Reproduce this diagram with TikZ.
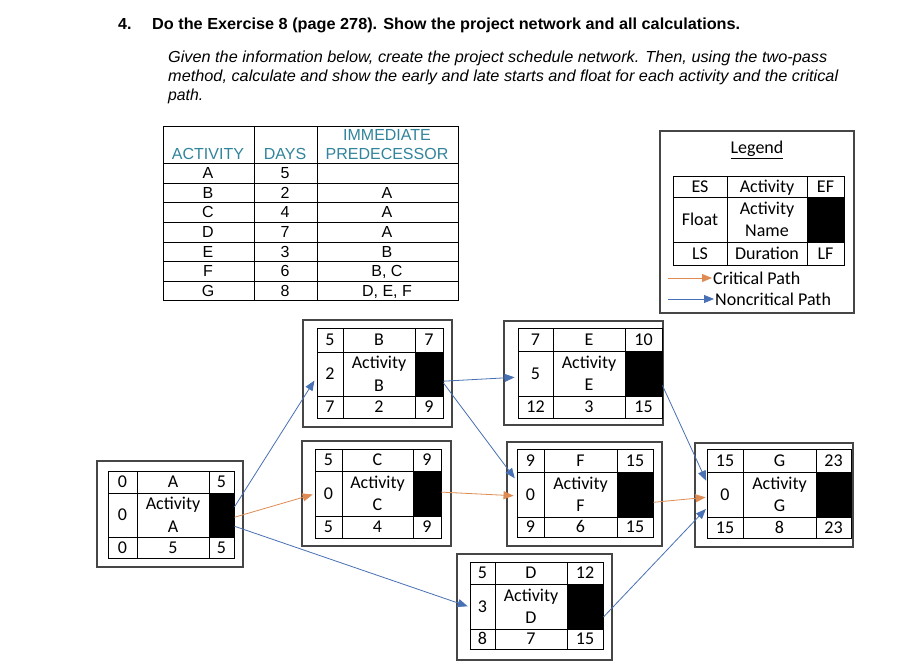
\documentclass[tikz,border=0pt]{standalone}
\usepackage{fontspec}
\usepackage{graphicx}
\setmainfont{Carlito}
\newfontfamily\arial{Liberation Sans}
\usetikzlibrary{arrows.meta,fit,calc}
\definecolor{teal1}{RGB}{49,132,155}
\definecolor{crit}{RGB}{223,140,84}
\definecolor{ncrit}{RGB}{72,112,180}
\definecolor{boxgray}{RGB}{70,70,70}
\tikzset{
  cell/.style={draw=black, line width=0.9pt, inner sep=0pt},
  celltxt/.style={inner sep=0pt, font=\fontsize{18}{22}\selectfont, text height=11.4pt, text depth=0pt},
  midtxt/.style={inner sep=0pt, font=\fontsize{18}{22.5}\selectfont, align=center},
  blackcell/.style={draw=black, fill=black, line width=0.9pt, inner sep=0pt},
  outerbox/.style={draw=boxgray, line width=1.1pt, inner sep=0pt},
  critarrow/.style={draw=crit, line width=0.8pt, -{Triangle[length=10pt,width=8pt]}},
  ncritarrow/.style={draw=ncrit, line width=0.8pt, -{Triangle[length=10pt,width=8pt]}},
  tabtxt/.style={font=\arial\fontsize{16}{18}\selectfont, inner sep=0pt, text height=11.5pt, text depth=0pt},
  headtxt/.style={tabtxt, text=teal1},
  itxt/.style={anchor=base west, inner sep=0pt, font=\arial\itshape\fontsize{16}{19}\selectfont},
  btxt/.style={anchor=base west, inner sep=0pt, font=\arial\bfseries\fontsize{16}{18}\selectfont},
  legtxt/.style={font=\fontsize{18}{20}\selectfont},
}
\def\setO#1,#2,#3,#4\relax{\def\oxa{#1}\def\oya{#2}\def\oxb{#3}\def\oyb{#4}}
\def\setX#1,#2,#3,#4\relax{\def\xa{#1}\def\xb{#2}\def\xc{#3}\def\xd{#4}}
\def\setY#1,#2,#3,#4\relax{\def\ya{#1}\def\yb{#2}\def\yc{#3}\def\yd{#4}}
\def\setT#1,#2,#3\relax{\def\tes{#1}\def\tnm{#2}\def\tef{#3}}
\def\setB#1,#2,#3\relax{\def\bls{#1}\def\bdu{#2}\def\blf{#3}}
\newcommand\actnode[8]{%
  \setO#2\relax\setX#3\relax\setY#4\relax\setT#5\relax\setB#8\relax
  \node[outerbox, fit={(\oxa,\oya)(\oxb,\oyb)}] (#1) {};
  \node[cell, fit={(\xa,\ya)(\xb,\yb)}] (#1-es) {};
  \node[cell, fit={(\xb,\ya)(\xc,\yb)}] (#1-nm) {};
  \node[cell, fit={(\xc,\ya)(\xd,\yb)}] (#1-ef) {};
  \node[cell, fit={(\xa,\yb)(\xb,\yc)}] (#1-fl) {};
  \node[cell, fit={(\xb,\yb)(\xc,\yc)}] (#1-ac) {};
  \node[blackcell, fit={(\xc,\yb)(\xd,\yc)}] (#1-bk) {};
  \node[cell, fit={(\xa,\yc)(\xb,\yd)}] (#1-ls) {};
  \node[cell, fit={(\xb,\yc)(\xc,\yd)}] (#1-du) {};
  \node[cell, fit={(\xc,\yc)(\xd,\yd)}] (#1-lf) {};
  \node[celltxt] (#1-est) at (#1-es.center) {\tes};
  \node[celltxt] (#1-nmt) at (#1-nm.center) {\tnm};
  \node[celltxt] (#1-eft) at (#1-ef.center) {\tef};
  \node[celltxt] (#1-flt) at (#1-fl.center) {#6};
  \node[midtxt] (#1-act) at (#1-ac.center) {#7};
  \node[celltxt] (#1-lst) at (#1-ls.center) {\bls};
  \node[celltxt] (#1-dut) at (#1-du.center) {\bdu};
  \node[celltxt] (#1-lft) at (#1-lf.center) {\blf};
}
\begin{document}
\begin{tikzpicture}[x=1pt,y=-1pt]
\useasboundingbox[fill=white] (0,0) rectangle (916,670);

% heading
\node[btxt] (hnum) at (118,29) {4.};
\node[btxt] (htitle) at (152,29) {\resizebox{588pt}{\height}{Do the Exercise 8 (page 278). Show the project network and all calculations.}};
\node[itxt] (g1) at (168,62) {\resizebox{659pt}{\height}{Given the information below, create the project schedule network. Then, using the two-pass}};
\node[itxt] (g2) at (168,81) {\resizebox{670pt}{\height}{method, calculate and show the early and late starts and float for each activity and the critical}};
\node[itxt] (g3) at (168,100) {\resizebox{35pt}{\height}{path.}};

% data table
\draw[line width=0.8pt] (163,126) rectangle (458,300);
\draw[line width=0.8pt] (254,126) -- (254,300) (317,126) -- (317,300);
\foreach \y in {163,183,202,222,242,261,281} \draw[line width=0.8pt] (163,\y) -- (458,\y);
\node[headtxt] (th1) at (208,154) {ACTIVITY};
\node[headtxt] (th2) at (285,154) {DAYS};
\node[headtxt] (th3) at (387,135) {IMMEDIATE};
\node[headtxt] (th4) at (387,154) {PREDECESSOR};
\foreach \a/\d/\p/\y [count=\i] in {A/5/{}/173, B/2/A/192.5, C/4/A/212, D/7/A/232, E/3/B/251.5, F/6/{B, C}/271, G/8/{D, E, F}/290.5}{
  \node[tabtxt] (ta\i) at (208,\y) {\a};
  \node[tabtxt] (td\i) at (285,\y) {\d};
  \node[tabtxt] (tp\i) at (387,\y) {\p};
}

% legend
\actnode{L}{660,131,854,313}{673,727,807,844}{176,197,242,265}{ES,Activity,EF}{Float}{Activity\\Name}{LS,Duration,LF}
\node[legtxt, inner sep=0pt] (ltitle) at (757,150) {\underline{Legend}};
\coordinate (lc1) at (668,278);
\coordinate (lc2) at (668,299);
\node[legtxt, anchor=west, inner sep=1pt] (lcrit) at (712,278) {Critical Path};
\node[legtxt, anchor=west, inner sep=1pt] (lncrit) at (714,299) {Noncritical Path};
\draw[critarrow] (lc1) -- (lcrit.west);
\draw[ncritarrow] (lc2) -- (lncrit.west);

% activity nodes
\actnode{A}{97,461,243,567}{108,137,209,234}{471,493,537,558}{0,A,5}{0}{Activity\\A}{0,5,5}
\actnode{B}{303,320,452,427}{317,343,415,443}{328,352,396,418}{5,B,7}{2}{Activity\\B}{7,2,9}
\actnode{C}{302,441,451,546}{315,342,413,441}{449,471,516,538}{5,C,9}{0}{Activity\\C}{5,4,9}
\actnode{D}{457,554,612,660}{470,495,567,603}{562,584,629,649}{5,D,12}{3}{Activity\\D}{8,7,15}
\actnode{E}{504,321,663,425}{518,553,625,662}{328,351,396,418}{7,E,10}{5}{Activity\\E}{12,3,15}
\actnode{F}{507,442,662,546}{517,544,617,653}{449,472,517,537}{9,F,15}{0}{Activity\\F}{9,6,15}
\actnode{G}{695,443,853,547}{707,743,816,851}{449,472,517,538}{15,G,23}{0}{Activity\\G}{15,8,23}

% connectors
\draw[ncritarrow, shorten >=4pt] ($(A-bk.north east)!0.32!(A-bk.south east)$) -- ($(B-fl.north west)!0.57!(B-fl.south west)$);
\draw[critarrow, shorten >=2pt] ($(A-bk.north east)!0.55!(A-bk.south east)$) -- ($(C-fl.north west)!0.51!(C-fl.south west)$);
\draw[ncritarrow, shorten >=2pt] ($(A-bk.north east)!0.75!(A-bk.south east)$) -- ($(D-fl.north west)!0.51!(D-fl.south west)$);
\draw[ncritarrow, shorten >=3pt] ($(B-bk.north east)!0.66!(B-bk.south east)$) -- ($(E-fl.north west)!0.58!(E-fl.south west)$);
\draw[ncritarrow, shorten >=3pt] ($(B-bk.north east)!0.70!(B-bk.south east)$) -- ($(F-fl.north west)!0.2!(F-fl.south west)$);
\draw[critarrow, shorten >=3pt] ($(C-bk.north east)!0.47!(C-bk.south east)$) -- ($(F-fl.north west)!0.53!(F-fl.south west)$);
\draw[ncritarrow, shorten >=1pt] ($(E-bk.north east)!0.76!(E-bk.south east)$) -- ($(G-fl.north west)!0.22!(G-fl.south west)$);
\draw[critarrow, shorten >=1pt] ($(F-bk.north east)!0.67!(F-bk.south east)$) -- ($(G-fl.north west)!0.56!(G-fl.south west)$);
\draw[ncritarrow, shorten >=1pt] ($(D-bk.north east)!0.73!(D-bk.south east)$) -- ($(G-fl.north west)!0.8!(G-fl.south west)$);
\end{tikzpicture}
\end{document}
